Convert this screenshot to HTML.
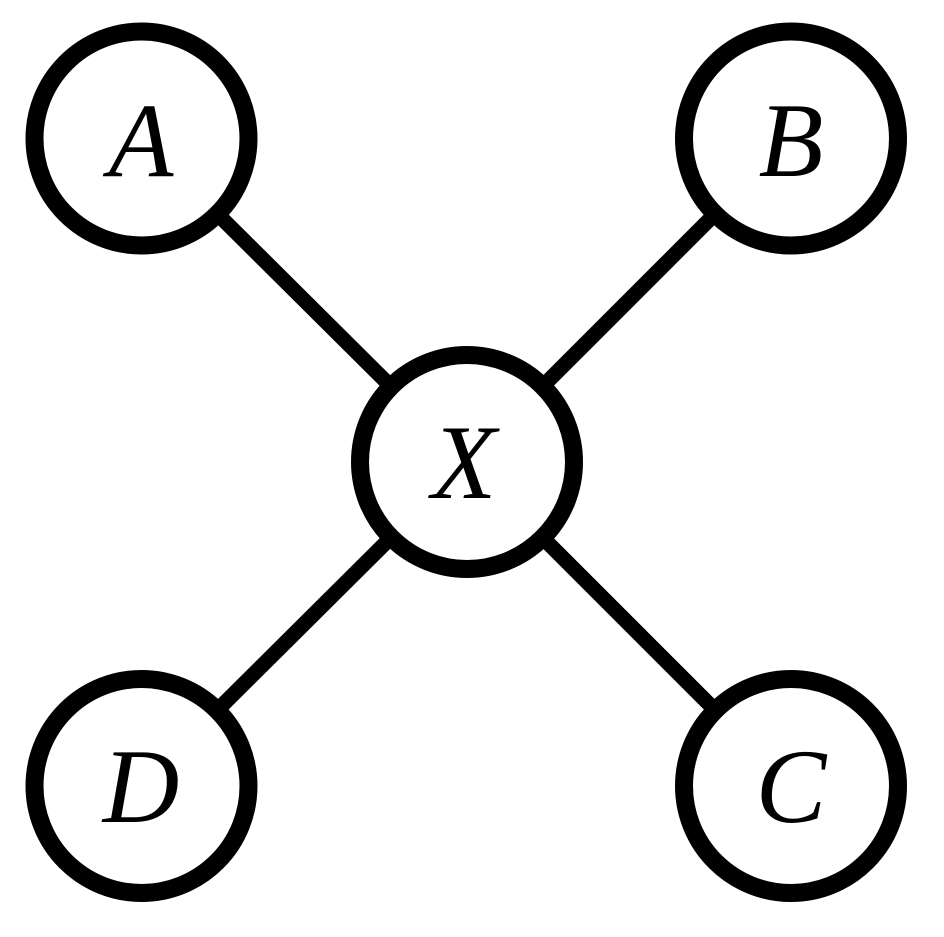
<!DOCTYPE html>
<html><head><meta charset="utf-8"><style>html,body{margin:0;padding:0;background:#fff}</style></head>
<body>
<svg width="944" height="932" viewBox="0 0 944 932" xmlns="http://www.w3.org/2000/svg">
<g stroke="#000" stroke-width="15" fill="none">
<line x1="141" y1="138" x2="467" y2="462"/>
<line x1="791" y1="138" x2="467" y2="462"/>
<line x1="141" y1="786" x2="467" y2="462"/>
<line x1="791" y1="786" x2="467" y2="462"/>
</g>
<g stroke="#000" stroke-width="18" fill="#fff">
<circle cx="141.5" cy="138.5" r="107"/>
<circle cx="791" cy="138.5" r="107"/>
<circle cx="467" cy="462" r="107"/>
<circle cx="141.5" cy="786" r="107"/>
<circle cx="791" cy="786" r="107"/>
</g>
<g font-family="Liberation Serif, serif" font-style="italic" font-size="106" text-anchor="middle" fill="#000">
<text x="141" y="176">A</text>
<text x="791" y="176">B</text>
<text x="464" y="498">X</text>
<text x="141" y="822">D</text>
<text x="791" y="822">C</text>
</g>
</svg>
</body></html>
